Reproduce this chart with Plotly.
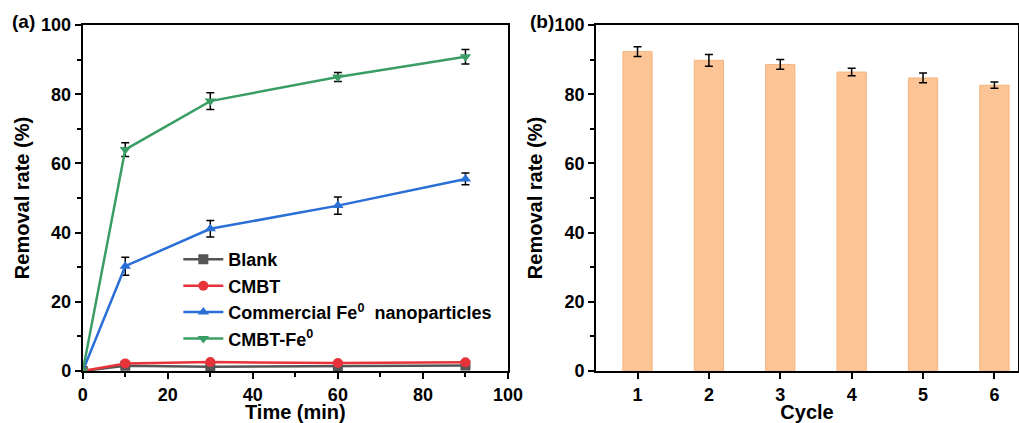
import plotly.graph_objects as go

time = [0, 10, 30, 60, 90]
blank = [0, 1.5, 1.2, 1.3, 1.6]
blank_err = [0, 0.3, 0.3, 0.3, 0.3]
cmbt = [0, 2.2, 2.6, 2.3, 2.5]
cmbt_err = [0, 0.4, 0.4, 0.4, 0.4]
commercial = [0, 30.3, 41.1, 47.8, 55.5]
commercial_err = [0, 2.6, 2.4, 2.5, 1.7]
cmbt_fe = [0, 64.0, 78.0, 85.0, 90.8]
cmbt_fe_err = [0, 2.0, 2.4, 1.3, 2.1]

cycles = [1, 2, 3, 4, 5, 6]
cycle_vals = [92.3, 89.8, 88.6, 86.4, 84.7, 82.6]
cycle_err = [1.4, 1.7, 1.4, 1.1, 1.4, 0.9]

FONT = "Liberation Sans"
fig = go.Figure()

series = [
    ("Blank", blank, blank_err, "#555555", "square"),
    ("CMBT", cmbt, cmbt_err, "#e8333a", "circle"),
    ("Commercial Fe<sup>0</sup>  nanoparticles", commercial, commercial_err, "#2a6fd6", "triangle-up"),
    ("CMBT-Fe<sup>0</sup>", cmbt_fe, cmbt_fe_err, "#3a9e64", "triangle-down"),
]
for name, y, e, c, sym in series:
    fig.add_trace(go.Scatter(
        x=time, y=y, name=name, mode="lines+markers",
        line=dict(color=c, width=2.5),
        marker=dict(symbol=sym, size=10, color=c),
        error_y=dict(type="data", array=e, color="black", thickness=1.5, width=4),
        xaxis="x", yaxis="y"))

fig.add_trace(go.Bar(
    x=cycles, y=cycle_vals, width=0.41, showlegend=False,
    marker=dict(color="#fdc596", line=dict(color="#f2b47e", width=1)),
    error_y=dict(type="data", array=cycle_err, color="black", thickness=1.5, width=4),
    xaxis="x2", yaxis="y2"))

tick_font = dict(family=FONT, size=18, color="black", weight="bold")
title_font = dict(family=FONT, size=20, color="black", weight="bold")
minor = dict(dtick=10, ticks="outside", ticklen=4, tickwidth=1.5, tickcolor="black")

axis_common = dict(
    showline=True, linecolor="black", linewidth=2, mirror=True,
    ticks="outside", ticklen=6, tickwidth=2, tickcolor="black",
    showgrid=False, zeroline=False, automargin=False,
    tickfont=tick_font,
)

fig.update_layout(
    width=1019, height=423,
    margin=dict(l=0, r=0, t=0, b=0),
    paper_bgcolor="white", plot_bgcolor="white",
    font=dict(family=FONT, color="black"),
    xaxis=dict(domain=[0.0812, 0.4985], range=[0, 100], dtick=20, minor=minor,
               title=dict(text="Time (min)", font=title_font, standoff=7),
               anchor="y", **axis_common),
    yaxis=dict(domain=[0.1229, 0.9409], range=[0, 100], dtick=20, minor=minor,
               title=dict(text="Removal rate (%)", font=title_font, standoff=6),
               anchor="x", **axis_common),
    xaxis2=dict(domain=[0.585, 0.999], range=[0.42, 6.33], tickvals=cycles,
                title=dict(text="Cycle", font=title_font, standoff=7),
                anchor="y2", **axis_common),
    yaxis2=dict(domain=[0.1229, 0.9409], range=[0, 100], dtick=20, minor=minor,
                title=dict(text="Removal rate (%)", font=title_font, standoff=6),
                anchor="x2", **axis_common),
    legend=dict(x=0.175, y=0.43, xanchor="left", yanchor="top",
                bgcolor="rgba(0,0,0,0)", tracegroupgap=0,
                font=dict(family=FONT, size=18, color="black", weight="bold"), itemwidth=40),
    annotations=[
        dict(text="(a)", x=0.010, y=0.950, xref="paper", yref="paper",
             xanchor="left", yanchor="middle", showarrow=False,
             font=dict(family=FONT, size=19, color="black", weight="bold")),
        dict(text="(b)", x=0.518, y=0.950, xref="paper", yref="paper",
             xanchor="left", yanchor="middle", showarrow=False,
             font=dict(family=FONT, size=19, color="black", weight="bold")),
    ],
)

fig.write_html("out.html", config={"displayModeBar": False},
               post_script="document.body.style.margin='0';document.body.style.overflow='hidden';")
